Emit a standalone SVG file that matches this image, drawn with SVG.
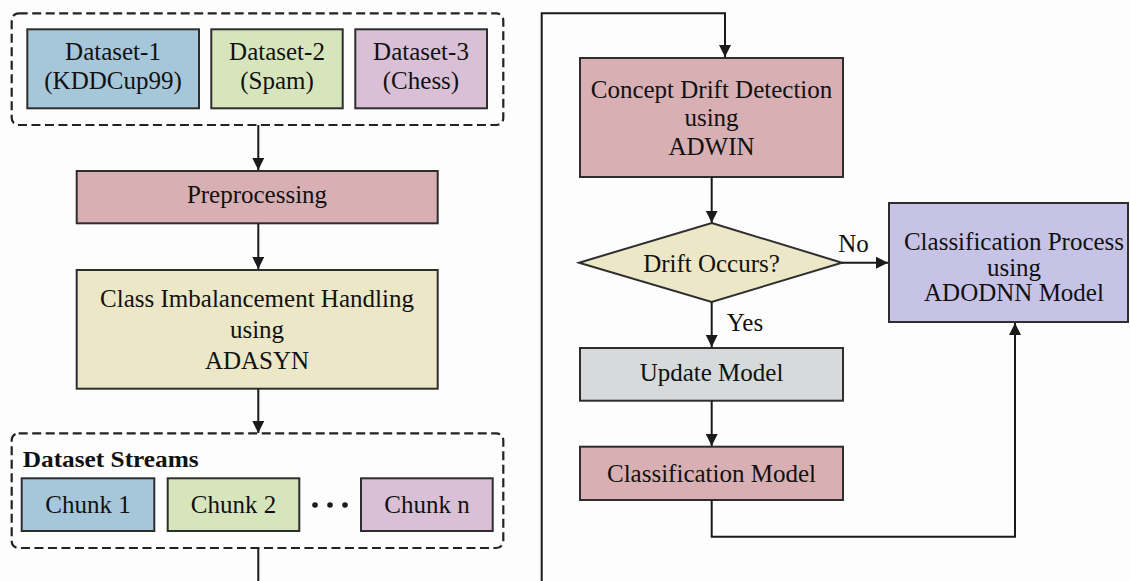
<svg xmlns="http://www.w3.org/2000/svg" width="1130" height="581" viewBox="0 0 1130 581">
<style>
.bx{stroke:#2e2e2e;stroke-width:2}
.dash{fill:none;stroke:#222;stroke-width:2.2;stroke-dasharray:9 4.5}
.t{font-family:"Liberation Serif","Times New Roman",serif;font-size:25px;fill:#111;text-anchor:middle}
.tb{font-family:"Liberation Serif","Times New Roman",serif;font-size:24px;font-weight:bold;fill:#111}
.ln{fill:none;stroke:#1a1a1a;stroke-width:2}
.blue{fill:#a6c6d9}.green{fill:#d7e5bd}.purple{fill:#d9c0d7}.pink{fill:#d8afb2}.cream{fill:#ebe7c7}.lav{fill:#c7c3e6}.gray{fill:#d6dadb}
</style>
<defs>
<marker id="ah" viewBox="0 0 10 10" refX="10" refY="5" markerWidth="12" markerHeight="12" markerUnits="userSpaceOnUse" orient="auto">
<path d="M0,0 L10,5 L0,10 z" fill="#1a1a1a"/>
</marker>
</defs>
<rect width="1130" height="581" fill="#fdfdfd"/>

<g id="datasets">
<rect class="dash" x="11.7" y="13.3" width="491.6" height="111.7" rx="7"/>
<g id="dataset1"><rect class="bx blue" x="27.3" y="29.3" width="171.7" height="79"/>
<text class="t" x="113" y="60">Dataset-1</text><text class="t" x="113" y="89">(KDDCup99)</text></g>
<g id="dataset2"><rect class="bx green" x="211.3" y="29.3" width="131.4" height="79"/>
<text class="t" x="277" y="60">Dataset-2</text><text class="t" x="277" y="89">(Spam)</text></g>
<g id="dataset3"><rect class="bx purple" x="355.3" y="29.3" width="131.7" height="79"/>
<text class="t" x="421" y="60">Dataset-3</text><text class="t" x="421" y="89">(Chess)</text></g>
</g>

<g id="preprocessing"><rect class="bx pink" x="76.7" y="171" width="361" height="52.3"/>
<text class="t" x="257" y="203.3">Preprocessing</text></g>

<g id="adasyn"><rect class="bx cream" x="76.7" y="270" width="361" height="118.7"/>
<text class="t" x="257" y="307">Class Imbalancement Handling</text>
<text class="t" x="257" y="337.5">using</text>
<text class="t" x="257" y="369.3">ADASYN</text></g>

<g id="streams">
<rect class="dash" x="11.7" y="433.3" width="491.6" height="114.7" rx="7"/>
<text class="tb" x="22.7" y="466.7" textLength="176" lengthAdjust="spacingAndGlyphs">Dataset Streams</text>
<g id="chunk1"><rect class="bx blue" x="21.7" y="478.3" width="132.6" height="52.7"/><text class="t" x="88" y="513.3">Chunk 1</text></g>
<g id="chunk2"><rect class="bx green" x="167.7" y="478.3" width="131.6" height="52.7"/><text class="t" x="233.5" y="513.3">Chunk 2</text></g>
<circle cx="315" cy="505" r="2.8" fill="#1c1c1c"/><circle cx="330" cy="505" r="2.8" fill="#1c1c1c"/><circle cx="345" cy="505" r="2.8" fill="#1c1c1c"/>
<g id="chunkn"><rect class="bx purple" x="361" y="478.3" width="131.7" height="52.7"/><text class="t" x="427" y="513.3">Chunk n</text></g>
</g>

<g id="adwin"><rect class="bx pink" x="580" y="58" width="263" height="119"/>
<text class="t" x="711.5" y="97.7">Concept Drift Detection</text>
<text class="t" x="711.5" y="126">using</text>
<text class="t" x="711.5" y="155">ADWIN</text></g>

<g id="drift"><polygon class="bx cream" points="711.7,223 842,262.7 711.7,302 579,262.7"/>
<text class="t" x="711.5" y="272">Drift Occurs?</text></g>

<g id="adodnn"><rect class="bx lav" x="889" y="203" width="239" height="119"/>
<text class="t" x="1014" y="250">Classification Process</text>
<text class="t" x="1014" y="275.5">using</text>
<text class="t" x="1014" y="301">ADODNN Model</text></g>

<g id="update"><rect class="bx gray" x="580" y="348" width="263" height="52.7"/>
<text class="t" x="711.5" y="380.7">Update Model</text></g>

<g id="classmodel"><rect class="bx pink" x="580" y="446.7" width="263" height="53.3"/>
<text class="t" x="711.5" y="482.3">Classification Model</text></g>

<g id="connectors">
<line class="ln" x1="258.3" y1="125" x2="258.3" y2="170" marker-end="url(#ah)"/>
<line class="ln" x1="258.3" y1="223.3" x2="258.3" y2="269" marker-end="url(#ah)"/>
<line class="ln" x1="258.3" y1="388.7" x2="258.3" y2="433" marker-end="url(#ah)"/>
<line class="ln" x1="258.3" y1="548" x2="258.3" y2="581"/>
<polyline class="ln" points="541.7,581 541.7,13.3 725,13.3 725,57" marker-end="url(#ah)"/>
<line class="ln" x1="711.7" y1="177" x2="711.7" y2="222.7" marker-end="url(#ah)"/>
<line class="ln" x1="842" y1="262.7" x2="888" y2="262.7" marker-end="url(#ah)"/>
<text class="t" x="853.5" y="252">No</text>
<line class="ln" x1="711.7" y1="302" x2="711.7" y2="347" marker-end="url(#ah)"/>
<text class="t" x="745" y="330.7">Yes</text>
<line class="ln" x1="711.7" y1="400.7" x2="711.7" y2="446" marker-end="url(#ah)"/>
<polyline class="ln" points="711.7,500 711.7,536.7 1015,536.7 1015,323" marker-end="url(#ah)"/>
</g>
</svg>
